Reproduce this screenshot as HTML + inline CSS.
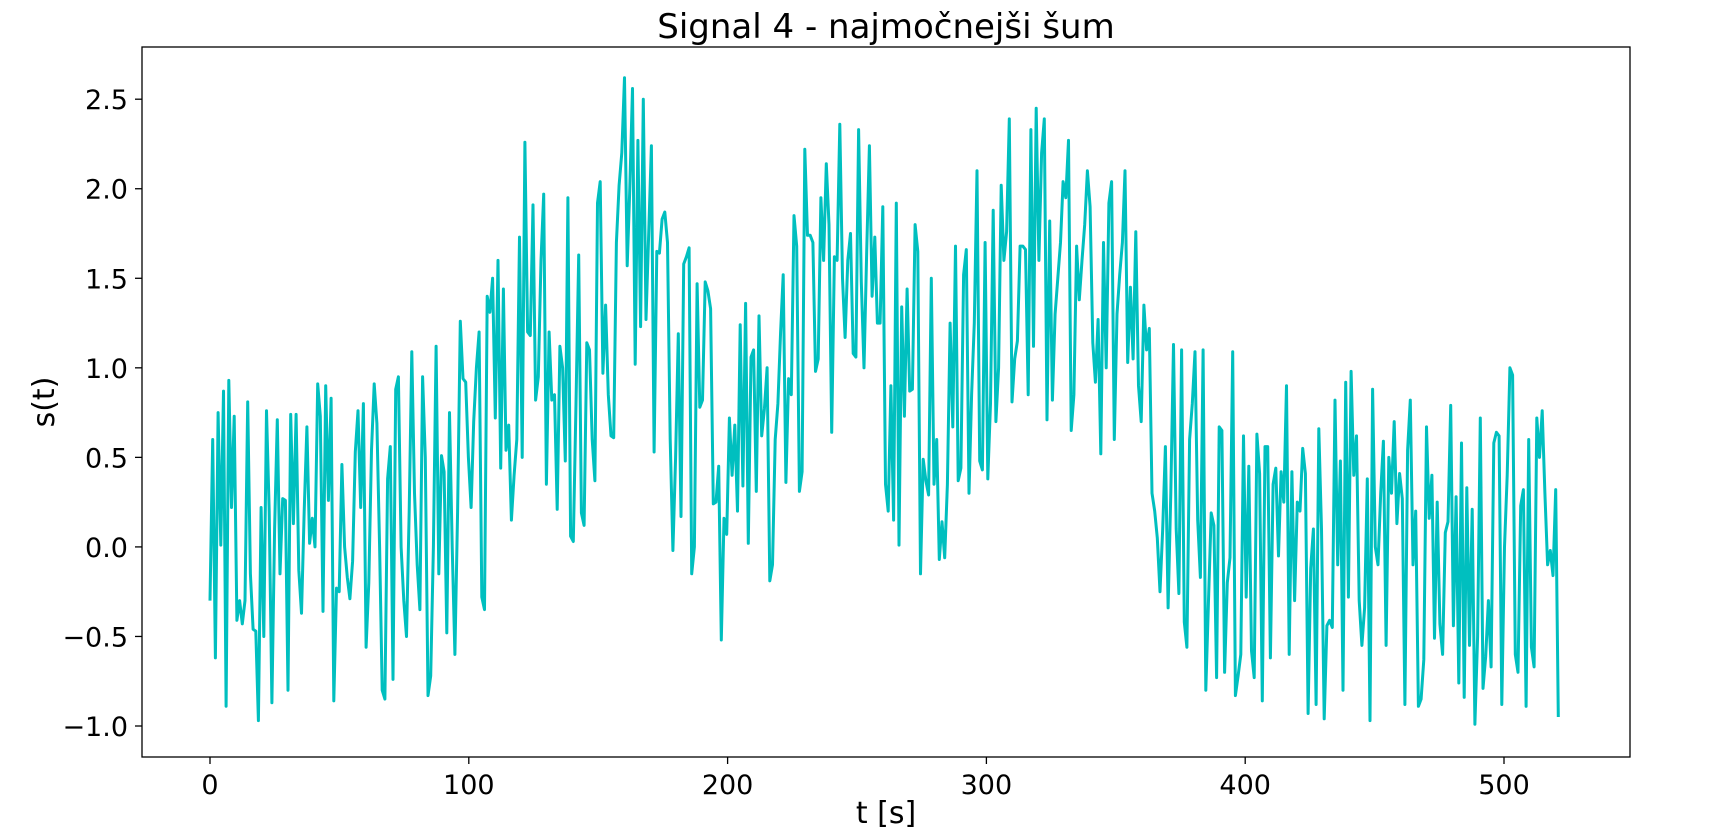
<!DOCTYPE html>
<html><head><meta charset="utf-8"><style>
html,body{margin:0;padding:0;background:#fff;}
svg text{font-family:"DejaVu Sans","Liberation Sans",sans-serif;fill:#000;}
</style></head><body>
<svg id="chart" width="1728" height="830" viewBox="0 0 1728 830" xmlns="http://www.w3.org/2000/svg">
<rect width="1728" height="830" fill="#fff"/>
<text x="886" y="38" font-size="34" text-anchor="middle">Signal 4 - najmočnejši šum</text>
<g id="plot"></g>
<rect x="142" y="47" width="1488" height="710" fill="none" stroke="#000" stroke-width="1.3"/>
<text x="886" y="823" font-size="30" text-anchor="middle">t [s]</text>
<text transform="translate(54,402) rotate(-90)" font-size="30" text-anchor="middle">s(t)</text>
</svg>
<script>
const xTicks=[0,100,200,300,400,500];
const yTicks=[-1.0,-0.5,0.0,0.5,1.0,1.5,2.0,2.5];
const tEnd=[521];
const signal=[-0.3,0.6,-0.62,0.75,0.01,0.87,-0.89,0.93,0.22,0.73,
-0.41,-0.3,-0.43,-0.3,0.81,-0.15,-0.46,-0.47,-0.97,0.22,
-0.5,0.76,0.2,-0.87,0.1,0.71,-0.15,0.27,0.26,-0.8,
0.74,0.13,0.74,-0.13,-0.37,0.2,0.67,0.02,0.16,0.0,
0.91,0.73,-0.36,0.9,0.26,0.83,-0.86,-0.23,-0.25,0.46,
0.0,-0.17,-0.29,-0.08,0.53,0.76,0.22,0.8,-0.56,-0.2,
0.54,0.91,0.69,0.0,-0.8,-0.85,0.38,0.56,-0.74,0.88,
0.95,0.0,-0.3,-0.5,0.2,1.09,0.3,-0.1,-0.35,0.95,
0.5,-0.83,-0.72,0.0,1.12,-0.15,0.51,0.42,-0.48,0.75,
0.0,-0.6,0.2,1.26,0.94,0.92,0.5,0.22,0.7,1.0,
1.2,-0.28,-0.35,1.4,1.31,1.5,0.72,1.6,0.44,1.44,
0.54,0.68,0.15,0.4,0.6,1.73,0.5,2.26,1.2,1.18,
1.91,0.82,0.95,1.6,1.97,0.35,1.2,0.82,0.85,0.21,
1.12,1.0,0.48,1.95,0.06,0.03,0.8,1.63,0.19,0.12,
1.14,1.1,0.6,0.37,1.92,2.04,0.97,1.35,0.85,0.62,
0.61,1.7,2.02,2.2,2.62,1.57,2.0,2.56,1.02,2.27,
1.23,2.5,1.27,1.75,2.24,0.53,1.65,1.64,1.83,1.87,
1.7,0.6,-0.02,0.5,1.19,0.17,1.58,1.62,1.67,-0.15,
0.0,1.47,0.78,0.82,1.48,1.43,1.33,0.24,0.25,0.45,
-0.52,0.16,0.07,0.72,0.4,0.68,0.2,1.24,0.34,1.36,
0.02,1.06,1.1,0.31,1.29,0.62,0.77,1.0,-0.19,-0.1,
0.6,0.8,1.2,1.52,0.36,0.94,0.85,1.85,1.68,0.31,
0.42,2.22,1.74,1.74,1.7,0.98,1.05,1.95,1.6,2.14,
1.8,0.64,1.62,1.6,2.36,1.5,1.17,1.6,1.75,1.08,
1.06,2.33,1.48,1.0,1.65,2.24,1.4,1.73,1.25,1.25,
1.9,0.35,0.2,0.9,0.15,1.92,0.01,1.34,0.73,1.44,
0.87,0.88,1.8,1.65,-0.15,0.49,0.37,0.29,1.5,0.35,
0.6,-0.07,0.14,-0.06,0.35,1.25,0.67,1.68,0.37,0.44,
1.52,1.66,0.3,0.85,1.25,2.1,0.48,0.43,1.7,0.38,
0.8,1.88,0.7,1.0,2.02,1.6,1.76,2.39,0.81,1.05,
1.15,1.68,1.68,1.66,0.85,2.33,1.12,2.45,1.6,2.2,
2.39,0.71,1.82,0.82,1.3,1.5,1.7,2.04,1.95,2.27,
0.65,0.85,1.68,1.38,1.6,1.8,2.1,1.9,1.14,0.92,
1.27,0.52,1.7,1.0,1.92,2.04,0.6,1.3,1.52,1.7,
2.1,1.03,1.45,1.05,1.76,0.9,0.7,1.35,1.1,1.22,
0.3,0.2,0.05,-0.25,0.1,0.56,-0.34,0.3,1.13,0.1,
-0.26,1.1,-0.42,-0.56,0.6,0.8,1.09,0.15,-0.17,1.1,
-0.8,-0.3,0.19,0.12,-0.73,0.67,0.65,-0.7,-0.2,-0.06,
1.09,-0.83,-0.72,-0.6,0.62,-0.28,0.45,-0.58,-0.73,0.63,
0.41,-0.86,0.56,0.56,-0.62,0.35,0.44,-0.05,0.42,0.25,
0.9,-0.6,0.42,-0.3,0.25,0.2,0.55,0.41,-0.93,-0.12,
0.1,-0.88,0.66,0.1,-0.96,-0.44,-0.41,-0.45,0.82,-0.1,
0.48,-0.8,0.92,-0.28,0.98,0.4,0.62,-0.3,-0.55,-0.34,
0.38,-0.97,0.88,0.0,-0.1,0.3,0.59,-0.55,0.5,0.3,
0.7,0.13,0.41,0.27,-0.88,0.54,0.82,-0.1,0.2,-0.89,
-0.85,-0.63,0.67,0.16,0.4,-0.51,0.25,-0.43,-0.6,0.08,
0.14,0.79,-0.44,0.28,-0.76,0.58,-0.84,0.33,-0.55,0.21,
-0.99,-0.5,0.72,-0.79,-0.61,-0.3,-0.67,0.58,0.64,0.62,
-0.88,0.0,0.4,1.0,0.96,-0.6,-0.7,0.23,0.32,-0.89,
0.6,-0.56,-0.67,0.72,0.5,0.76,0.3,-0.1,-0.02,-0.16,
0.32,-0.95];
const NS="http://www.w3.org/2000/svg";
function xScale(v){return 210+v*(1504-210)/500;}
function yScale(v){return 726-(v+1)*(726-99.2)/3.5;}
const g=document.getElementById('plot');
xTicks.forEach(t=>{
 const l=document.createElementNS(NS,'line');
 
 
 l.setAttribute('x1',xScale(t));l.setAttribute('x2',xScale(t));l.setAttribute('y1',757);l.setAttribute('y2',764);l.setAttribute('stroke','#000');l.setAttribute('stroke-width','1.3');g.appendChild(l);
 const tx=document.createElementNS(NS,'text');
 
 
 tx.setAttribute('x',xScale(t));tx.setAttribute('y',794);tx.setAttribute('font-size','27');tx.setAttribute('text-anchor','middle');tx.textContent=t;g.appendChild(tx);
});
yTicks.forEach(t=>{
 const l=document.createElementNS(NS,'line');
 
 
 l.setAttribute('x1',135);l.setAttribute('x2',142);l.setAttribute('y1',yScale(t));l.setAttribute('y2',yScale(t));l.setAttribute('stroke','#000');l.setAttribute('stroke-width','1.3');g.appendChild(l);
 const tx=document.createElementNS(NS,'text');
 
 
 tx.setAttribute('x',128);tx.setAttribute('y',yScale(t)+10);tx.setAttribute('font-size','27');tx.setAttribute('text-anchor','end');tx.textContent=(t<0?'\u2212':'')+Math.abs(t).toFixed(1);g.appendChild(tx);
});
const step=tEnd[0]/(signal.length-1);
const p=document.createElementNS(NS,'polyline');


p.setAttribute('points',signal.map((v,i)=>xScale(i*step).toFixed(1)+','+yScale(v).toFixed(1)).join(' '));
p.setAttribute('fill','none');p.setAttribute('stroke','#00bfbf');p.setAttribute('stroke-width','3');p.setAttribute('stroke-linejoin','round');
g.appendChild(p);
</script>
</body></html>
